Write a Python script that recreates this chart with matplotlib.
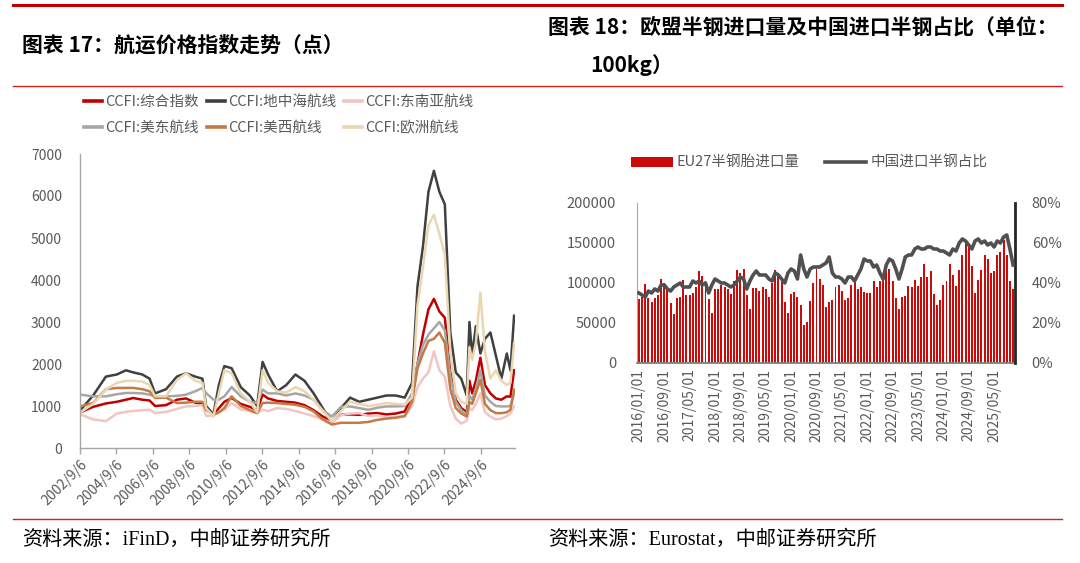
import numpy as np
import pandas as pd
import matplotlib
matplotlib.use('Agg')
import matplotlib.pyplot as plt
from matplotlib.lines import Line2D
from matplotlib.patches import Patch

plt.rcParams['font.family'] = ['Noto Sans CJK SC', 'DejaVu Sans']

# ---------------- 左图：CCFI 航运价格指数 ----------------
# 横轴位置（按图上刻度折算的年份位置）
pos = [2002.7, 2003.4, 2004.1, 2004.7, 2005.2, 2005.6, 2006.1, 2006.5, 2006.8, 2007.4,
       2008.0, 2008.5, 2009.0, 2009.4, 2009.6, 2010.0, 2010.3, 2010.6, 2011.0, 2011.5,
       2012.0, 2012.4, 2012.7, 2013.0, 2013.5, 2014.0, 2014.5, 2015.0, 2015.5, 2016.0,
       2016.5, 2017.0, 2017.5, 2018.0, 2018.5, 2019.0, 2019.5, 2020.0, 2020.5, 2020.9,
       2021.2, 2021.5, 2021.8, 2022.1, 2022.4, 2022.7, 2023.0, 2023.3, 2023.6, 2023.9,
       2024.05, 2024.2, 2024.4, 2024.65, 2024.9, 2025.2, 2025.5, 2025.8, 2026.1, 2026.3, 2026.5]

ccfi_total = [850, 980, 1060, 1100, 1150, 1190, 1150, 1130, 1000, 1020,
              1150, 1180, 1080, 1050, 950, 790, 950, 1100, 1190, 1050,
              980, 900, 1270, 1180, 1120, 1100, 1080, 1020, 900, 750,
              640, 790, 800, 790, 820, 830, 800, 820, 870, 1250,
              2000, 2700, 3300, 3550, 3250, 3100, 1800, 1150, 950, 850,
              1600, 1300, 1600, 2150, 1500, 1300, 1180, 1150, 1230, 1220, 1850]
ccfi_med = [900, 1250, 1700, 1750, 1850, 1800, 1750, 1650, 1300, 1400,
            1700, 1780, 1700, 1650, 1000, 800, 1500, 1950, 1900, 1450,
            1250, 1000, 2050, 1750, 1350, 1500, 1750, 1600, 1300, 950,
            600, 950, 1200, 1100, 1150, 1200, 1250, 1250, 1200, 1550,
            3850, 4800, 6100, 6600, 6100, 5800, 2750, 1800, 1650, 1250,
            3000, 2200, 2900, 2250, 2600, 2750, 2200, 1650, 2250, 1850, 3150]
ccfi_sea = [800, 680, 640, 820, 860, 880, 900, 910, 830, 860,
            930, 990, 1000, 1020, 760, 780, 850, 910, 1070, 920,
            880, 830, 910, 880, 950, 930, 880, 820, 760, 680,
            600, 780, 820, 830, 760, 780, 720, 740, 760, 1000,
            1450, 1650, 1800, 2300, 1850, 1700, 1000, 700, 580, 650,
            950, 900, 1050, 1300, 850, 750, 680, 700, 760, 820, 990]
ccfi_use = [1270, 1230, 1230, 1280, 1310, 1310, 1300, 1270, 1230, 1230,
            1240, 1270, 1350, 1430, 1310, 1150, 1150, 1230, 1450, 1230,
            1100, 1070, 1390, 1300, 1300, 1250, 1300, 1250, 1150, 900,
            750, 980, 990, 950, 910, 960, 990, 990, 1000, 1300,
            2000, 2450, 2700, 2850, 3000, 2800, 1700, 1100, 900, 800,
            1250, 1150, 1400, 1850, 1250, 1100, 1000, 990, 990, 1000, 1300]
ccfi_usw = [990, 1070, 1400, 1430, 1430, 1430, 1400, 1350, 1190, 1200,
            1070, 1080, 1100, 1100, 910, 790, 850, 950, 1230, 1000,
            900, 830, 1070, 1080, 1070, 1050, 1030, 980, 870, 680,
            560, 600, 600, 600, 620, 670, 700, 720, 760, 1100,
            1900, 2250, 2550, 2600, 2750, 2500, 1400, 950, 820, 750,
            1100, 1050, 1300, 1620, 1050, 900, 830, 830, 850, 910, 1390]
ccfi_eu = [850, 1050, 1390, 1550, 1600, 1600, 1580, 1500, 1230, 1230,
           1620, 1780, 1600, 1550, 950, 750, 1300, 1850, 1780, 1300,
           1100, 850, 1850, 1550, 1350, 1320, 1450, 1350, 1150, 880,
           640, 880, 1100, 1050, 1000, 1030, 1070, 1050, 1030, 1200,
           3400, 4300, 5300, 5550, 5100, 4600, 2300, 1300, 1100, 1050,
           2400, 2100, 2500, 3700, 2300, 1650, 1850, 1600, 1500, 1550, 2500]

left_ticks = [2002.68 + 2 * k for k in range(12)]
left_ticklabels = [f"{2002 + 2 * k}/9/6" for k in range(12)]

# ---------------- 右图：欧盟半钢胎进口 ----------------
eu27_import = [80, 83, 99, 81, 76, 81, 85, 105, 100, 92,
               75, 61, 81, 82, 104, 85, 85, 88, 95, 115,
               109, 103, 80, 63, 92, 92, 98, 95, 92, 86,
               103, 116, 112, 118, 85, 68, 94, 94, 90, 95,
               92, 82, 100, 116, 109, 106, 76, 63, 86, 89,
               82, 72, 48, 51, 78, 100, 118, 105, 98, 70,
               76, 79, 95, 98, 90, 79, 81, 97, 102, 93,
               95, 89, 88, 88, 103, 95, 103, 105, 123, 117,
               103, 81, 67, 82, 84, 96, 95, 104, 96, 108,
               124, 107, 115, 86, 72, 79, 98, 102, 124, 110,
               96, 116, 135, 150, 149, 121, 88, 104, 116, 135,
               130, 113, 115, 135, 139, 154, 135, 103, 92]
eu27_import = [v * 1000 for v in eu27_import]
china_share = [35, 34, 33, 36, 35, 37, 36, 39, 39, 37,
               36, 38, 39, 40, 38, 38, 38, 41, 40, 41,
               39, 40, 35, 39, 42, 41, 40, 40, 39, 38,
               39, 41, 43, 42, 37, 41, 44, 46, 44, 44,
               44, 42, 41, 45, 44, 42, 40, 45, 47, 46,
               42, 54, 47, 43, 47, 48, 48, 48, 49, 50,
               53, 45, 43, 43, 42, 40, 43, 43, 41, 44,
               47, 52, 51, 51, 48, 49, 45, 42, 49, 52,
               51, 47, 42, 47, 53, 54, 54, 57, 58, 57,
               57, 58, 58, 57, 57, 56, 56, 55, 54, 57,
               56, 60, 62, 61, 59, 57, 61, 62, 60, 61,
               59, 60, 58, 61, 60, 63, 64, 57, 49]
months = pd.date_range('2016-01-01', periods=len(eu27_import), freq='MS')

W, H = 1080, 563
fig = plt.figure(figsize=(W / 100, H / 100), dpi=100)

def fx(px):
    return px / W

def fy(py):
    return 1 - py / H

# 页眉/页脚红线
fig.add_artist(Line2D([fx(13), fx(1062)], [fy(4.5), fy(4.5)], color='#C00000', lw=2.2))
fig.add_artist(Line2D([fx(13), fx(1062)], [fy(86), fy(86)], color='#D22020', lw=1))
fig.add_artist(Line2D([fx(13), fx(1062)], [fy(519), fy(519)], color='#D22020', lw=1))

title_kw = dict(fontsize=15, fontweight='bold', color='black', va='center', ha='left')
fig.text(fx(22), fy(45), '图表 17：航运价格指数走势（点）', **title_kw)
fig.text(fx(548), fy(27), '图表 18：欧盟半钢进口量及中国进口半钢占比（单位：', **title_kw)
fig.text(fx(590), fy(65), '100kg）', **title_kw)

src_kw = dict(fontsize=14.5, color='black', va='center', ha='left',
              family=['Liberation Serif', 'Noto Sans CJK SC'])
fig.text(fx(22), fy(540), '资料来源：iFinD，中邮证券研究所', **src_kw)
fig.text(fx(548), fy(540), '资料来源：Eurostat，中邮证券研究所', **src_kw)

tick_color = '#595959'

# ---- 左图 ----
ax1 = fig.add_axes([fx(80), fy(448), fx(515) - fx(80), fy(154) - fy(448)])
series = [
    ('CCFI:综合指数', ccfi_total, '#C00000'),
    ('CCFI:地中海航线', ccfi_med, '#404040'),
    ('CCFI:东南亚航线', ccfi_sea, '#F2C4C4'),
    ('CCFI:美东航线', ccfi_use, '#A6A6A6'),
    ('CCFI:美西航线', ccfi_usw, '#C47A45'),
    ('CCFI:欧洲航线', ccfi_eu, '#EAD7B0'),
]
handles = {}
for name, vals, col in series:
    h, = ax1.plot(pos, vals, color=col, lw=1.8, label=name)
    handles[name] = h
ax1.set_xlim(2002.68, 2026.55)
ax1.set_ylim(0, 7000)
ax1.set_yticks(range(0, 7001, 1000))
ax1.set_xticks(left_ticks)
ax1.set_xticklabels(left_ticklabels, rotation=45, ha='right', va='top', rotation_mode='anchor')
ax1.tick_params(axis='y', length=0, pad=13, labelsize=10, labelcolor=tick_color)
ax1.tick_params(axis='x', length=4, width=1, color='#A6A6A6', direction='out', pad=3,
                labelsize=10, labelcolor=tick_color)
for s in ['top', 'right']:
    ax1.spines[s].set_visible(False)
for s in ['left', 'bottom']:
    ax1.spines[s].set_color('#A6A6A6')
    ax1.spines[s].set_linewidth(1)

order = ['CCFI:综合指数', 'CCFI:美东航线', 'CCFI:地中海航线', 'CCFI:美西航线',
         'CCFI:东南亚航线', 'CCFI:欧洲航线']
leg_lines = [Line2D([], [], color=handles[n].get_color(), lw=2.6) for n in order]
fig.legend(leg_lines, order, loc='upper left',
           bbox_to_anchor=(fx(84), fy(95)), ncol=3, frameon=False, fontsize=10.5,
           handlelength=1.25, handletextpad=0.2, columnspacing=0.55, labelspacing=0.8,
           labelcolor=tick_color, borderaxespad=0, borderpad=0)

# ---- 右图 ----
ax2 = fig.add_axes([fx(637), fy(363), fx(1015) - fx(637), fy(203) - fy(363)])
idx = np.arange(len(eu27_import))
ax2.bar(idx, eu27_import, width=0.62, color='#CC0A0A', zorder=2)
ax2.set_xlim(-0.6, len(idx) - 0.4)
ax2.set_ylim(0, 200000)
ax2.set_yticks(range(0, 200001, 50000))
tick_idx = idx[::8]
ax2.set_xticks(tick_idx)
ax2.set_xticklabels([months[i].strftime('%Y/%m/%d') for i in tick_idx], rotation=90,
                    ha='center', va='top')
ax2.tick_params(axis='x', length=0, pad=4, labelsize=10, labelcolor=tick_color)
ax2.tick_params(axis='y', length=0, pad=15, labelsize=10.5, labelcolor=tick_color)
for s in ['top', 'right']:
    ax2.spines[s].set_visible(False)
ax2.spines['left'].set_color('#A6A6A6')
ax2.spines['bottom'].set_color('#7F7F7F')
ax2.spines['bottom'].set_linewidth(1.3)

ax3 = ax2.twinx()
ax3.plot(idx, china_share, color='#505050', lw=2.6, zorder=3)
ax3.set_ylim(0, 80)
ax3.set_yticks(range(0, 81, 20))
ax3.set_yticklabels([f'{v}%' for v in range(0, 81, 20)])
ax3.tick_params(axis='y', length=0, pad=12, labelsize=10.5, labelcolor=tick_color)
for s in ['top', 'left', 'bottom']:
    ax3.spines[s].set_visible(False)
ax3.spines['right'].set_color('#262626')
ax3.spines['right'].set_linewidth(2)

leg_handles = [Patch(facecolor='#CC0A0A', edgecolor='none'),
               Line2D([], [], color='#505050', lw=2.6)]
fig.legend(leg_handles, ['EU27半钢胎进口量', '中国进口半钢占比'], loc='center left',
           bbox_to_anchor=(fx(631), fy(163)), ncol=2, frameon=False, fontsize=10.5,
           handlelength=2.85, handleheight=0.7, handletextpad=0.3, columnspacing=1.7,
           labelcolor=tick_color, borderaxespad=0, borderpad=0)

fig.savefig('out.png', dpi=100)
